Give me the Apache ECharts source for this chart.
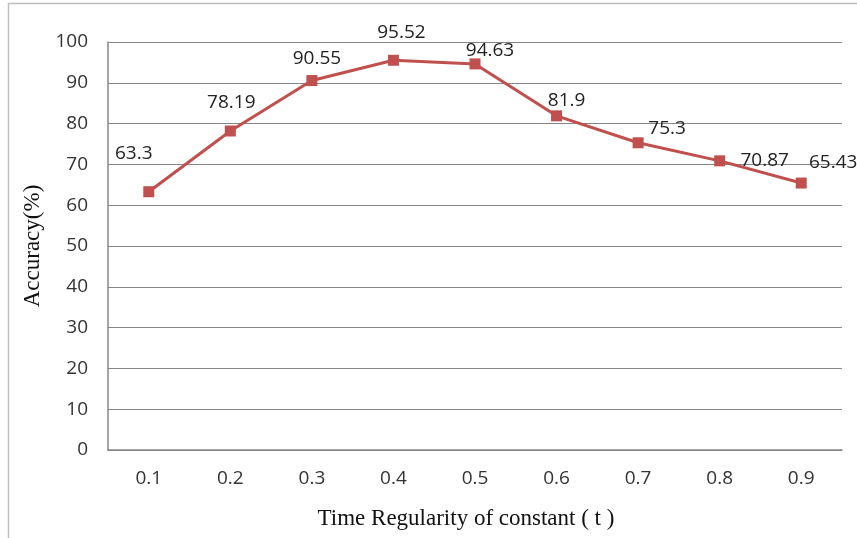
<!DOCTYPE html>
<html><head><meta charset="utf-8">
<script src="https://cdn.jsdelivr.net/npm/echarts@6/dist/echarts.min.js"></script>
<style>html,body{margin:0;padding:0;background:#fff}#c{width:857px;height:538px}</style>
</head><body><div id="c"></div>
<script>
const categories = ['0.1','0.2','0.3','0.4','0.5','0.6','0.7','0.8','0.9'];
const accuracy = [63.3, 78.19, 90.55, 95.52, 94.63, 81.9, 75.3, 70.87, 65.43];
const yTicks = [0, 10, 20, 30, 40, 50, 60, 70, 80, 90, 100];
// label placement styling (offsets relative to point)
const labelOffsets = [[-15,-18],[1,-8],[5,-2],[8,-8],[15,7],[10,5],[29,6],[45,20],[32,0]];

const chart = echarts.init(document.getElementById('c'));
const lblFont = '"Open Sans", sans-serif';
chart.setOption({
  animation: false,
  graphic: [{type:'rect', shape:{x:8.5,y:3.5,width:900,height:600}, style:{fill:'none', stroke:'#bfbfbf', lineWidth:1.5}, silent:true}],
  grid: {left:108, top:42, right:15, bottom:88},
  xAxis: {
    type:'category', data:categories, boundaryGap:true,
    axisLine:{lineStyle:{color:'#868686', width:1.5}},
    axisTick:{alignWithLabel:true, length:5, lineStyle:{color:'#868686'}},
    axisLabel:{color:'#333', fontSize:19, fontFamily:lblFont, margin:19},
    name:'Time Regularity of constant ( t )', nameLocation:'middle', nameGap:57,
    nameTextStyle:{fontFamily:'"Liberation Serif", serif', fontSize:23, color:'#111', padding:[0,18,0,0]}
  },
  yAxis: {
    type:'value', min:yTicks[0], max:yTicks[yTicks.length-1], interval:yTicks[1]-yTicks[0],
    axisLine:{show:true, lineStyle:{color:'#868686', width:1.5}},
    axisTick:{show:false},
    splitLine:{lineStyle:{color:'#868686', width:1.2}},
    axisLabel:{color:'#333', fontSize:19, fontFamily:lblFont, margin:20},
    name:'Accuracy(%)', nameLocation:'middle', nameGap:59, nameRotate:90,
    nameTextStyle:{fontFamily:'"Liberation Serif", serif', fontSize:23, color:'#111'}
  },
  series: [{
    type:'line', symbol:'rect', symbolSize:11,
    lineStyle:{color:'#C0504D', width:3},
    itemStyle:{color:'#C0504D'},
    data: accuracy.map((v,i)=>({value:v, label:{offset:labelOffsets[i]}})),
    label:{show:true, position:'top', color:'#222', fontSize:19, fontFamily:lblFont}
  }]
});
</script></body></html>
